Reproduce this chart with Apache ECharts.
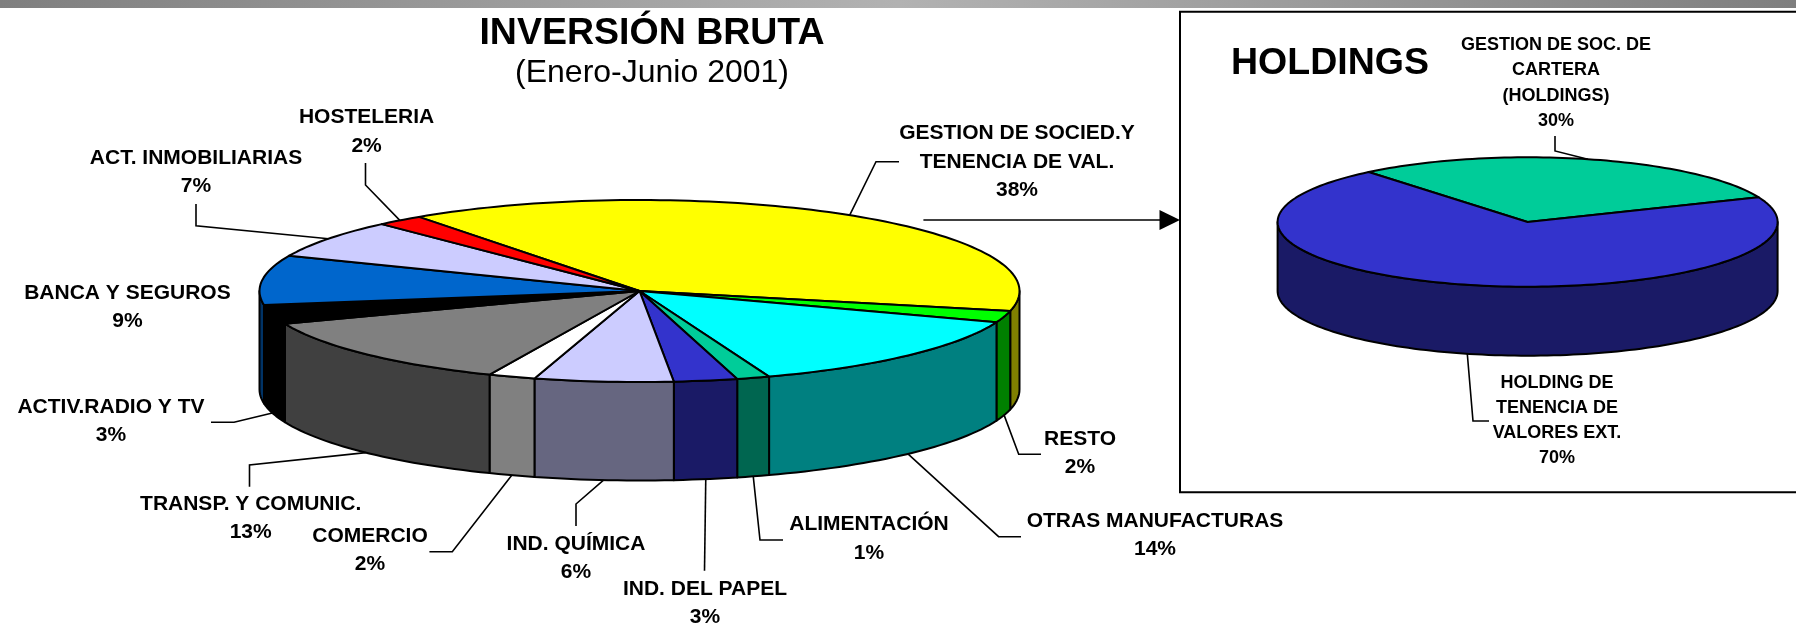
<!DOCTYPE html>
<html><head><meta charset="utf-8">
<style>html,body{margin:0;padding:0;background:#fff}#c{width:1796px;height:625px}</style>
<script src="https://cdn.jsdelivr.net/npm/echarts@6/dist/echarts.min.js"></script>
</head><body><div id="c"></div>
<script>
// ---- data ----
var mainCategories = ['GESTION DE SOCIED.Y\nTENENCIA DE VAL.','RESTO','OTRAS MANUFACTURAS','ALIMENTACIÓN','IND. DEL PAPEL','IND. QUÍMICA','COMERCIO','TRANSP. Y COMUNIC.','ACTIV.RADIO Y TV','BANCA Y SEGUROS','ACT. INMOBILIARIAS','HOSTELERIA'];
var mainValues = [38.4,2.05,13.9,1.4,2.7,5.9,2.0,12.7,3.4,8.8,6.8,2.0];
var holdingCategories = ['GESTION DE SOC. DE\nCARTERA\n(HOLDINGS)','HOLDING DE\nTENENCIA DE\nVALORES EXT.'];
var holdingValues = [29.7,70.3];
var titles = ['INVERSIÓN BRUTA','(Enero-Junio 2001)','HOLDINGS'];

// ---- styles ----
var mainTop  = ['#FFFF00','#00FF00','#00FFFF','#00CC99','#3333CC','#CCCCFF','#FFFFFF','#808080','#000000','#0066CC','#CCCCFF','#FF0000'];
var mainWall = ['#808000','#008000','#008080','#006650','#1A1A66','#666680','#808080','#404040','#000000','#003366','#666680','#800000'];
var holdTop  = ['#00CC99','#3333CC'];
var holdWall = ['#006650','#1A1A66'];
var FONT = '"Liberation Sans",Arial,sans-serif';

// ---- layout ----
var mainPie = {cx:639.5,cy:291,a:380,b:91,depth:98.5,start:234.5,fs:21,lh:28.5};
var holdPie = {cx:1527.6,cy:222,a:250,b:64.7,depth:69,start:230.5,fs:18,lh:25.2};
var mainLabelPos = [[1017,162],[1080,453],[1155,535],[869,538.5],[705,603],[576,558],[370,550],[250.7,518],[111,421],[127.4,307],[196,172],[366.6,131.5]];
var mainElbows = [[[899,161.7],[876,161.7]],[[1041,454.3],[1018.7,454.3]],[[1021,536.7],[998.6,536.7]],[[783,540],[760,540]],[[704.5,570.7]],[[576,526],[576,504]],[[429.4,551.7],[452.3,551.7]],[[249.5,486.7],[249.5,465]],[[211,422.3],[234,422.3]],null,[[196,204],[196,225.7]],[[365.5,163],[365.5,185]]];
var holdLabelPos = [[1556,83],[1557,420.5]];
var holdElbows = [[[1555,136],[1555,151]],[[1489,421],[1473,421]]];

function spans(values,start){
  var total=values.reduce(function(s,v){return s+v;},0),acc=start;
  return values.map(function(v){var s=acc;acc+=v/total*360;return [s,acc];});
}
function pt(p,deg,dz){var r=deg*Math.PI/180;return [p.cx+p.a*Math.cos(r),p.cy+p.b*Math.sin(r)+(dz||0)];}
function arc(p,s,e,dz){var n=Math.max(2,Math.ceil((e-s)/1.5)),o=[];for(var i=0;i<=n;i++)o.push(pt(p,s+(e-s)*i/n,dz));return o;}
function dims(values){return values.map(function(v,i){return {value:[v,i]};});}

function wallSeries(p,values,cols){
  var sp=spans(values,p.start);
  return {type:'custom',coordinateSystem:'none',silent:true,z:2,data:dims(values),
    renderItem:function(par,api){
      var k=api.value(1),ch=[];
      [0,360].forEach(function(off){
        var s=Math.max(sp[k][0],off),e=Math.min(sp[k][1],off+180);
        if(e>s){
          var pts=arc(p,s,e,0).concat(arc(p,s,e,p.depth).reverse());
          ch.push({type:'polygon',shape:{points:pts},style:{fill:cols[k],stroke:'#000',lineWidth:2,lineJoin:'round'}});
        }
      });
      return {type:'group',children:ch};
    }};
}
function topSeries(p,values,cols){
  var sp=spans(values,p.start);
  return {type:'custom',coordinateSystem:'none',silent:true,z:3,data:dims(values),
    renderItem:function(par,api){
      var k=api.value(1);
      return {type:'polygon',shape:{points:[[p.cx,p.cy]].concat(arc(p,sp[k][0],sp[k][1],0))},
        style:{fill:cols[k],stroke:'#000',lineWidth:2,lineJoin:'round'}};
    }};
}
function labelSeries(p,values,cats,pos,elbows){
  var sp=spans(values,p.start);
  return {type:'custom',coordinateSystem:'none',silent:true,z:4,data:dims(values),
    renderItem:function(par,api){
      var k=api.value(1),ch=[],txt=cats[k]+'\n'+Math.round(api.value(0))+'%';
      if(elbows[k]){
        var mid=(sp[k][0]+sp[k][1])/2,sn=Math.sin(mid*Math.PI/180);
        var anchor=pt(p,mid,sn>0?p.depth:0);
        ch.push({type:'polyline',shape:{points:elbows[k].concat([anchor])},style:{fill:null,stroke:'#000',lineWidth:1.6}});
      }
      ch.push({type:'text',style:{text:txt,x:pos[k][0],y:pos[k][1],align:'center',verticalAlign:'middle',
        fontFamily:FONT,fontWeight:'bold',fontSize:p.fs,lineHeight:p.lh,fill:'#000'}});
      return {type:'group',children:ch};
    }};
}

var chart=echarts.init(document.getElementById('c'),null,{renderer:'canvas'});
chart.setOption({
  animation:false,backgroundColor:'#fff',
  title:[
    {text:titles[0],left:652,top:33.5,padding:0,textAlign:'center',textVerticalAlign:'middle',textStyle:{fontFamily:FONT,fontWeight:'bold',fontSize:37.5,color:'#000'}},
    {text:titles[1],left:652,top:73,padding:0,textAlign:'center',textVerticalAlign:'middle',textStyle:{fontFamily:FONT,fontWeight:'normal',fontSize:32,color:'#000'}},
    {text:titles[2],left:1330,top:64,padding:0,textAlign:'center',textVerticalAlign:'middle',textStyle:{fontFamily:FONT,fontWeight:'bold',fontSize:37.5,color:'#000'}}
  ],
  graphic:[
    {type:'rect',silent:true,z:1,shape:{x:0,y:0,width:1796,height:8},style:{fill:new echarts.graphic.LinearGradient(0,0,1,0,[{offset:0,color:'#7f7f7f'},{offset:0.5,color:'#b2b2b2'},{offset:1,color:'#7f7f7f'}])}},
    {type:'rect',silent:true,z:1,shape:{x:1180,y:11.7,width:640,height:480.6},style:{fill:'#fff',stroke:'#000',lineWidth:2}},
    {type:'line',silent:true,z:1,shape:{x1:923.4,y1:220,x2:1162,y2:220},style:{stroke:'#000',lineWidth:1.6}},
    {type:'polygon',silent:true,z:1,shape:{points:[[1159.5,210],[1180,220],[1159.5,230]]},style:{fill:'#000'}}
  ],
  series:[
    wallSeries(mainPie,mainValues,mainWall),
    topSeries(mainPie,mainValues,mainTop),
    labelSeries(mainPie,mainValues,mainCategories,mainLabelPos,mainElbows),
    wallSeries(holdPie,holdingValues,holdWall),
    topSeries(holdPie,holdingValues,holdTop),
    labelSeries(holdPie,holdingValues,holdingCategories,holdLabelPos,holdElbows)
  ]
});
</script></body></html>
